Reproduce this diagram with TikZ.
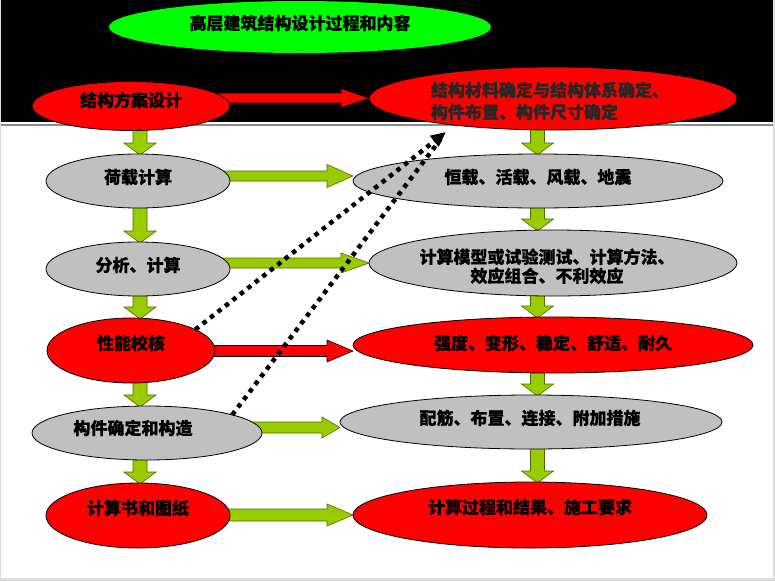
\documentclass[tikz,border=0pt]{standalone}
\usepackage{fontspec}
\setmainfont{Noto Sans CJK SC}[BoldFeatures={FakeBold=0.6}]
\usetikzlibrary{shapes.geometric,arrows.meta,calc}
\definecolor{myred}{HTML}{FF0000}
\definecolor{mygray}{HTML}{C0C0C0}
\definecolor{titlegreen}{HTML}{00FF00}
\definecolor{arrgreen}{HTML}{99CC00}
\definecolor{arrline}{HTML}{4D6B00}
\definecolor{pagegray}{HTML}{DCDCDC}
\pgfdeclarelayer{bg}\pgfdeclarelayer{arr}
\pgfsetlayers{bg,arr,main}
% vertical block arrow: #1 column coordinate, #2 upper node, #3 lower node
\newcommand\vblk[3]{%
  \draw[garr] let \p1=(#2.south -| #1), \p2=(#3.north -| #1) in
    (\x1-7pt,\y1+4pt) -- (\x1-7pt,\y2+11pt) -- (\x1-16pt,\y2+11pt) -- (\x1,\y2-1pt)
    -- (\x1+16pt,\y2+11pt) -- (\x1+7pt,\y2+11pt) -- (\x1+7pt,\y1+4pt) -- cycle;}
% horizontal block arrow: #1 style, #2 left node, #3 right node, #4 y, #5 head length, #6 shaft half, #7 head half
\newcommand\hblk[7]{%
  \draw[#1] let \p1=(#2.center |- 0,#4), \p2=(#3.west |- 0,#4) in
    (\x1,\y1+#6pt) -- (\x2-#5pt,\y1+#6pt) -- (\x2-#5pt,\y1+#7pt) -- (\x2,\y1)
    -- (\x2-#5pt,\y1-#7pt) -- (\x2-#5pt,\y1-#6pt) -- (\x1,\y1-#6pt) -- cycle;}
\begin{document}
\begin{tikzpicture}[x=1pt,y=-1pt,
  ell/.style={ellipse,draw=black,line width=0.8pt,inner sep=0pt,outer sep=0pt},
  rede/.style={ell,fill=myred},
  graye/.style={ell,fill=mygray},
  txt/.style={font=\fontsize{17}{20}\selectfont\bfseries,text=black,inner sep=0pt},
  garr/.style={fill=arrgreen,draw=arrline,line width=0.6pt,line join=miter},
  rarr/.style={fill=myred,draw=black,line width=0.6pt,line join=miter},
  dots/.style={line width=4.5pt,dash pattern=on 4.5pt off 5pt,black}]
\useasboundingbox (0,0) rectangle (775,581);
\begin{pgfonlayer}{bg}
  \fill[pagegray] (0,0) rectangle (775,581);
  \fill[white] (1,0) rectangle (773,578);
  \fill[black] (1,0) rectangle (773,122);
  \fill[black!45] (1,123.5) rectangle (773,125.8);
\end{pgfonlayer}
% header
\node[ell,draw=none,fill=titlegreen,minimum width=382pt,minimum height=52pt,
  label={[txt,yshift=4pt]center:高层建筑结构设计过程和内容}] (title) at (300,27) {};
\node[rede,minimum width=198pt,minimum height=49pt,
  label={[txt,yshift=6pt]center:结构方案设计}] (fa) at (131,106) {};
\node[rede,minimum width=368pt,minimum height=63pt,
  label={[txt,font=\fontsize{17}{22}\selectfont\bfseries,text=black!85,align=left,xshift=-3pt,yshift=-2.5pt]center:{结构材料确定与结构体系确定、\\构件布置、构件尺寸确定}}] (fb) at (553,98.5) {};
% left column
\node[graye,minimum width=184pt,minimum height=54pt,
  label={[txt,yshift=4pt]center:荷载计算}] (n1) at (138,181) {};
\node[graye,minimum width=184pt,minimum height=54pt,
  label={[txt,yshift=4pt]center:分析、计算}] (n2) at (138,269) {};
\node[rede,minimum width=168pt,minimum height=65pt,
  label={[txt,yshift=7.5pt]center:性能校核}] (n3) at (131,350.5) {};
\node[graye,minimum width=230pt,minimum height=54pt,
  label={[txt,xshift=-14pt,yshift=5pt]center:构件确定和构造}] (n4) at (147,433) {};
\node[rede,minimum width=184pt,minimum height=65pt,
  label={[txt,yshift=7.5pt]center:计算书和图纸}] (n5) at (138,515.5) {};
% right column
\node[graye,minimum width=370pt,minimum height=54pt,
  label={[txt,yshift=4pt]center:恒载、活载、风载、地震}] (m1) at (538,181) {};
\node[graye,minimum width=368pt,minimum height=66pt,
  label={[txt,font=\fontsize{17}{19}\selectfont\bfseries,align=center,xshift=-6pt,yshift=-3.3pt]center:{计算模型或试验测试、计算方法、\\效应组合、不利效应}}] (m2) at (553,263) {};
\node[rede,minimum width=400pt,minimum height=56pt,
  label={[txt,yshift=2pt]center:强度、变形、稳定、舒适、耐久}] (m3) at (553,345) {};
\node[graye,minimum width=382pt,minimum height=54pt,
  label={[txt,xshift=-1pt,yshift=4pt]center:配筋、布置、连接、附加措施}] (m4) at (531,422) {};
\node[rede,minimum width=354pt,minimum height=66pt,
  label={[txt,yshift=8pt]center:计算过程和结果、施工要求}] (m5) at (530,515) {};
\coordinate (colL) at (140,0);
\coordinate (colR) at (537.5,0);
\coordinate (tip) at (446,132);
\begin{pgfonlayer}{arr}
  \vblk{colL}{fa}{n1}
  \vblk{colL}{n1}{n2}
  \vblk{colL}{n2}{n3}
  \vblk{colL}{n3}{n4}
  \vblk{colL}{n4}{n5}
  \vblk{colR}{fb}{m1}
  \vblk{colR}{m1}{m2}
  \vblk{colR}{m2}{m3}
  \vblk{colR}{m3}{m4}
  \vblk{colR}{m4}{m5}
  \hblk{rarr}{fa}{fb}{98}{28}{5}{9.5}
  \hblk{garr}{n1}{m1}{176}{26}{5}{11.5}
  \hblk{garr}{n2}{m2}{263}{28}{5}{10}
  \hblk{rarr}{n3}{m3}{351}{26}{5.5}{11}
  \hblk{garr}{n4}{m4}{427.5}{18}{5.5}{10.5}
  \hblk{garr}{n5}{m5}{515}{26}{6}{11}
\end{pgfonlayer}
% dotted feedback arrows
\draw[dots,shorten >=9pt] (n4.12) -- (tip);
\draw[dots,-{Triangle[length=15pt,width=13pt]}] (n3.18) -- (tip);
\end{tikzpicture}
\end{document}
